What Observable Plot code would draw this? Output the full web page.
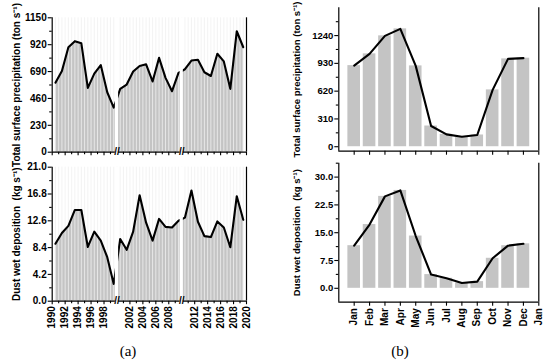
<!DOCTYPE html>
<html><head><meta charset="utf-8">
<script src="https://cdn.jsdelivr.net/npm/d3@7"></script>
<script src="https://cdn.jsdelivr.net/npm/@observablehq/plot@0.6"></script>
<style>
body{margin:0;background:#fff;width:550px;height:364px;overflow:hidden;position:relative;}
.panel{position:absolute;}
.panel svg{overflow:visible;}
.cap{position:absolute;font-family:"Liberation Serif","Times New Roman",serif;font-size:15px;transform:translate(-50%,-50%);color:#000;}
</style></head><body>
<div id="a1" class="panel" style="left:0px;top:0px"></div>
<div id="a2" class="panel" style="left:0px;top:155px"></div>
<div id="b1" class="panel" style="left:280px;top:0px"></div>
<div id="b2" class="panel" style="left:280px;top:155px"></div>
<div class="cap" style="left:128px;top:351px">(a)</div>
<div class="cap" style="left:400px;top:351px">(b)</div>
<script>
// ---- data ----
const years = [1990,1991,1992,1993,1994,1995,1996,1997,1998,1999,
               2000,2001,2002,2003,2004,2005,2006,2007,2008,2009,
               2010,2011,2012,2013,2014,2015,2016,2017,2018,2019];
const precipAnnual = [595,695,898,950,932,550,672,746,513,382,
                      542,579,690,738,752,605,807,636,522,678,
                      710,784,791,684,652,842,777,542,1035,898];
const dustAnnual = [9.0,10.7,11.8,14.3,14.3,8.5,10.9,9.5,6.9,2.7,
                    9.75,8.05,10.9,16.6,12.3,9.5,12.9,11.65,11.55,12.6,
                    13.1,17.35,12.45,10.2,10.05,12.5,11.55,8.45,16.45,12.75];
const yearTickLabels = [1990,1992,1994,1996,1998,2002,2004,2006,2008,2012,2014,2016,2018,2020];
const axisBreaks = [2000, 2010];
const yearEnd = 2020;

const months = ["Jan","Feb","Mar","Apr","May","Jun","Jul","Aug","Sep","Oct","Nov","Dec"];
const monthTickLabels = ["Jan","Feb","Mar","Apr","May","Jun","Jul","Aug","Sep","Oct","Nov","Dec","Jan"];
const precipMonthly = [905,1036,1237,1315,902,231,138,112,131,634,980,988];
const dustMonthly = [11.5,17.2,24.8,26.4,14.1,3.7,2.7,1.45,1.8,8.1,11.5,12.0];

const precipAnnualTicks = [0,230,460,690,920,1150];
const dustAnnualTicks = [0,4.2,8.4,12.6,16.8,21.0];
const precipMonthlyTicks = [0,310,620,930,1240];
const dustMonthlyTicks = [0,7.5,15,22.5,30];

const labelPrecip = "Total surface precipitation (ton s\u207B\u00B9)";
const labelDust = "Dust wet deposition  (kg s\u207B\u00B9)";

// ---- styling ----
const FONT = "'Liberation Sans', Arial, sans-serif";
const GRAY = "#c4c4c4";
const HALF_GAP = 0.25;

function midpoints(t) {
  const m = [];
  for (let i = 0; i < t.length - 1; i++) m.push((t[i] + t[i+1]) / 2);
  return m;
}

function annualPanel(values, o) {
  const data = years.map((year, i) => ({year, v: values[i]}));
  const yMax = o.ticks[o.ticks.length - 1];
  const allTicks = years.concat([yearEnd]);
  const minorX = allTicks.filter(y => !yearTickLabels.includes(y) && !axisBreaks.includes(y));
  const segStarts = [years[0]].concat(axisBreaks.map(b => b + HALF_GAP));
  const segEnds = axisBreaks.map(b => b - HALF_GAP).concat([yearEnd]);
  const segments = segStarts.map((s, i) => ({x1: s, x2: segEnds[i]}));
  return Plot.plot({
    width: 250, height: o.height,
    marginLeft: 51.7, marginRight: 4, marginTop: o.mt, marginBottom: o.mb,
    x: {type: "linear", domain: [years[0], yearEnd]},
    y: {domain: [0, yMax]},
    style: {fontFamily: FONT, fontSize: "10px", fontWeight: "bold", color: "#000", background: "transparent"},
    marks: [
      Plot.areaY(data, {x: d => d.year + 0.5, y: "v", fill: GRAY}),
      Plot.ruleX(data, {x: d => d.year + 0.5, y1: 0, y2: yMax, stroke: "#f0f0f0", strokeWidth: 0.8}),
      Plot.ruleX(data.slice(1), {x: "year", y1: 0, y2: yMax, stroke: "#f0f0f0", strokeWidth: 0.8}),
      Plot.lineY(data, {x: d => d.year + 0.5, y: "v", stroke: "#000", strokeWidth: 2.1}),
      Plot.rect(axisBreaks, {x1: b => b - HALF_GAP, x2: b => b + HALF_GAP, y1: 0, y2: yMax, fill: "#fff"}),
      Plot.ruleX([years[0]], {stroke: "#000", strokeWidth: 1.2}),
      Plot.ruleX([yearEnd], {stroke: "#000", strokeWidth: 1.2}),
      Plot.ruleY(segments, {x1: "x1", x2: "x2", y: 0, stroke: "#000", strokeWidth: 1.2}),
      Plot.axisY({ticks: o.ticks, tickSize: 4, tickPadding: 1.5, tickFormat: o.fmt, strokeWidth: 1.1,
                  fontSize: 10, label: o.label, labelAnchor: "center", labelArrow: "none", labelOffset: 39}),
      Plot.axisY({ticks: midpoints(o.ticks), tickSize: 2.5, tickFormat: () => "", label: null, strokeWidth: 1.1}),
      Plot.axisX({ticks: yearTickLabels, tickSize: 3.5, tickPadding: 1.5, strokeWidth: 1.1,
                  tickFormat: o.showX ? (d => String(d)) : (() => ""), tickRotate: o.showX ? -90 : 0, label: null}),
      Plot.axisX({ticks: minorX, tickSize: 2.5, tickFormat: () => "", label: null, strokeWidth: 1.1}),
      Plot.text(axisBreaks, {x: b => b, y: 0, text: () => "//", fontSize: 10, fontWeight: "bold", fill: "#000"})
    ]
  });
}

function monthlyPanel(values, o) {
  const data = months.map((m, i) => ({i: i + 1, v: values[i]}));
  const tickPos = monthTickLabels.map((m, i) => i + 1);
  return Plot.plot({
    width: 270, height: o.height,
    marginLeft: 58.3, marginRight: 11.7, marginTop: o.mt, marginBottom: o.mb,
    x: {type: "linear", domain: [0, monthTickLabels.length]},
    y: {domain: o.yDomain},
    style: {fontFamily: FONT, fontSize: "10px", fontWeight: "bold", color: "#000", background: "transparent"},
    marks: [
      Plot.rectY(data, {x1: d => d.i - 0.41, x2: d => d.i + 0.41, y1: 0, y2: "v", fill: GRAY}),
      Plot.lineY(data, {x: "i", y: "v", stroke: "#000", strokeWidth: 2.1}),
      Plot.ruleX([0], {stroke: "#000", strokeWidth: 1.2}),
      Plot.ruleX([monthTickLabels.length], {stroke: "#000", strokeWidth: 1.2}),
      Plot.ruleY([o.yDomain[0]], {stroke: "#000", strokeWidth: 1.2}),
      Plot.axisY({ticks: o.ticks, tickSize: 4, tickPadding: 1.5, tickFormat: o.fmt, strokeWidth: 1.1,
                  fontSize: 9.5, label: o.label, labelAnchor: "center", labelArrow: "none", labelOffset: 46}),
      Plot.axisY({ticks: o.minor, tickSize: 2.5, tickFormat: () => "", label: null, strokeWidth: 1.1}),
      Plot.axisX({ticks: tickPos, tickSize: 4, tickPadding: 2, strokeWidth: 1.1, fontSize: 10,
                  tickFormat: o.showX ? (i => monthTickLabels[i - 1]) : (() => ""),
                  tickRotate: o.showX ? -90 : 0, label: null})
    ]
  });
}

document.getElementById("a1").append(annualPanel(precipAnnual, {
  height: 158, mt: 17.3, mb: 6.3, ticks: precipAnnualTicks, fmt: d => String(d), label: labelPrecip, showX: false
}));
document.getElementById("a2").append(annualPanel(dustAnnual, {
  height: 180, mt: 11.7, mb: 34.3, ticks: dustAnnualTicks, fmt: d => d.toFixed(1), label: labelDust, showX: true
}));
document.getElementById("b1").append(monthlyPanel(precipMonthly, {
  height: 158, mt: 7.3, mb: 7.3, yDomain: [-50, 1550], ticks: precipMonthlyTicks,
  minor: [155,465,775,1085,1395], fmt: d => String(d), label: labelPrecip, showX: false
}));
document.getElementById("b2").append(monthlyPanel(dustMonthly, {
  height: 180, mt: 7.7, mb: 33.3, yDomain: [-3.75, 33.75], ticks: dustMonthlyTicks,
  minor: [3.75,11.25,18.75,26.25,33.75], fmt: d => d.toFixed(1), label: labelDust, showX: true
}));
</script>
</body></html>
